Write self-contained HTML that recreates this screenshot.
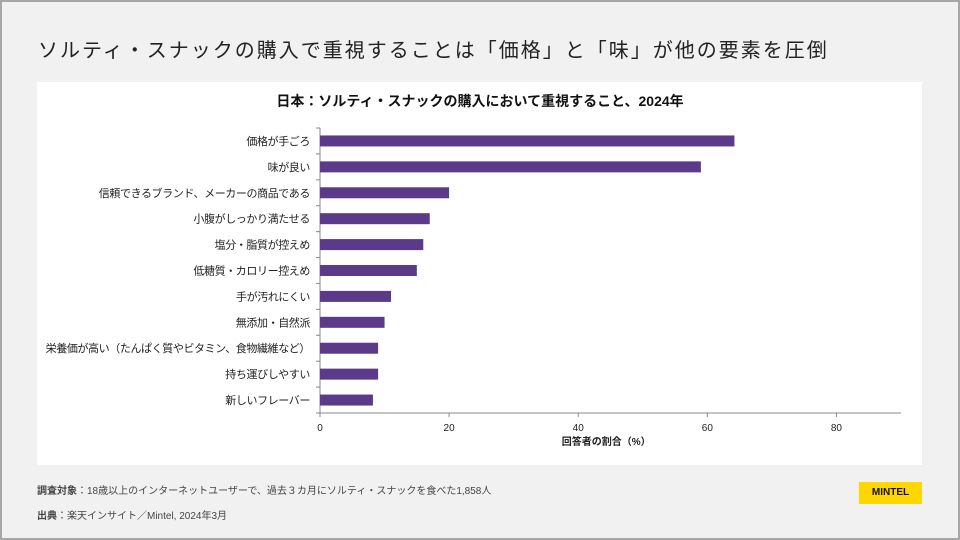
<!DOCTYPE html>
<html><head><meta charset="utf-8"><style>
body{margin:0;width:960px;height:540px;overflow:hidden;font-family:"Liberation Sans","Noto Sans CJK JP",sans-serif;}
#bg{position:absolute;left:0;top:0;width:956px;height:536px;background:#f1f1f1;border:2px solid #a6a6a6;}
#title{position:absolute;left:38px;top:34px;font-size:20px;color:#222;letter-spacing:2px;}
#panel{position:absolute;left:37px;top:82px;width:885px;height:383px;background:#fff;}
.foot{position:absolute;left:37px;font-size:10px;color:#444;}
#logo{position:absolute;left:859px;top:482px;width:63px;height:22px;background:#ffd700;font-weight:bold;font-size:10px;line-height:22px;text-align:center;color:#111;}
</style></head><body>
<div id="bg"></div>
<div id="title">ソルティ・スナックの購入で重視することは「価格」と「味」が他の要素を圧倒</div>
<div id="panel"></div>
<svg id="chart" width="960" height="540" style="position:absolute;left:0;top:0">
<text x="480" y="106" text-anchor="middle" font-size="14" font-weight="bold" fill="#111">日本：ソルティ・スナックの購入において重視すること、2024年</text>
</svg>
<div class="foot" style="top:482px"><b>調査対象</b>：18歳以上のインターネットユーザーで、過去３カ月にソルティ・スナックを食べた1,858人</div>
<div class="foot" style="top:507px"><b>出典</b>：楽天インサイト／Mintel, 2024年3月</div>
<div id="logo">MINTEL</div>
<script>
const categories=["価格が手ごろ","味が良い","信頼できるブランド、メーカーの商品である","小腹がしっかり満たせる","塩分・脂質が控えめ","低糖質・カロリー控えめ","手が汚れにくい","無添加・自然派","栄養価が高い（たんぱく質やビタミン、食物繊維など）","持ち運びしやすい","新しいフレーバー"];
const values=[64.2,59,20,17,16,15,11,10,9,9,8.2];
const ticks=[0,20,40,60,80];
const svg=document.getElementById('chart');
const NS='http://www.w3.org/2000/svg';
const x0=320,xmax=90,xEnd=901,yTop=128,yBottom=413;
function xs(v){return x0+v*(xEnd-x0)/xmax;}
const band=(yBottom-yTop)/categories.length;
function ys(i){return yTop+band*(i+0.5);}
function mk(t,a){const e=document.createElementNS(NS,t);for(const k in a)e.setAttribute(k,a[k]);svg.appendChild(e);return e;}
let ax=mk('line',{x1:x0,y1:yTop,x2:x0,y2:yBottom,stroke:'#888'});


let bx=mk('line',{x1:x0,y1:yBottom,x2:xEnd,y2:yBottom,stroke:'#888'});


for(let i=0;i<=categories.length;i++){mk('line',{x1:x0-4,y1:yTop+band*i,x2:x0,y2:yTop+band*i,stroke:'#888'});}
categories.forEach((c,i)=>{
  const r=mk('rect',{x:x0,y:ys(i)-5.5,width:xs(values[i])-x0,height:11,fill:'#5c3a8a'});
  
  
  const t=mk('text',{x:x0-10,y:ys(i)+4,'text-anchor':'end','font-size':11,'letter-spacing':'-0.4',fill:'#222'});
  t.textContent=c;
  
  
});
ticks.forEach(v=>{
  mk('line',{x1:xs(v),y1:yBottom,x2:xs(v),y2:yBottom+4,stroke:'#888'});
  const t=mk('text',{x:xs(v),y:yBottom+18,'text-anchor':'middle','font-size':10,fill:'#222'});
  t.textContent=v;
  
  
});
const xt=mk('text',{x:xs(40)+28,y:yBottom+32,'text-anchor':'middle','font-size':10,'font-weight':'bold',fill:'#222'});
xt.textContent='回答者の割合（%）';


</script>
</body></html>
